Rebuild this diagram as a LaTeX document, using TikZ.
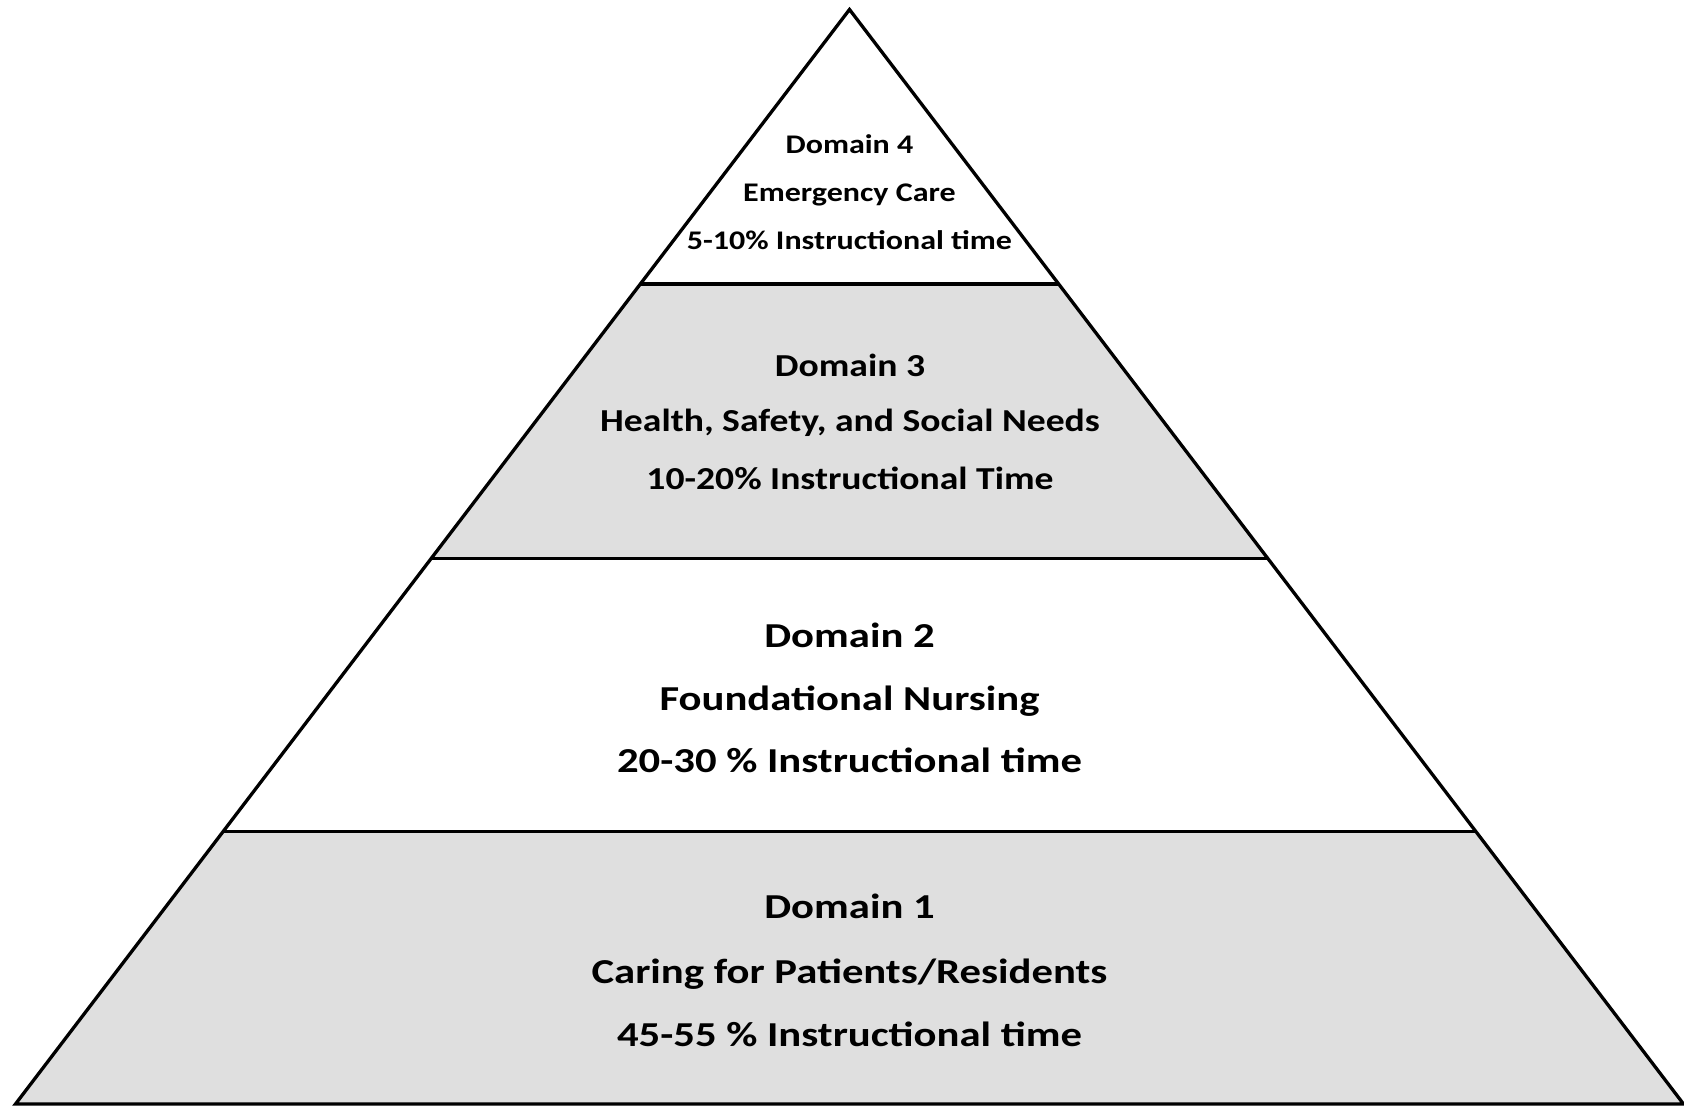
\documentclass[tikz,border=0pt]{standalone}
\usepackage{fontspec}
\usepackage{graphicx}
\setmainfont{Carlito}
\usetikzlibrary{calc}
\definecolor{bandgray}{RGB}{223,223,223}
\newcommand{\wideA}[1]{\scalebox{1.22}[1]{#1}}
\newcommand{\wideB}[1]{\scalebox{1.176}[1]{#1}}
\newcommand{\wideC}[1]{\scalebox{1.19}[1]{#1}}
\tikzset{
  outline/.style={line width=3.3pt, draw=black, line join=miter},
  txt/.style={anchor=base, inner sep=0pt, font=\bfseries},
  ta/.style={txt, font=\fontsize{35}{40}\selectfont\bfseries},
  tb/.style={txt, font=\fontsize{32}{37}\selectfont\bfseries},
  tc/.style={txt, font=\fontsize{26.9}{32}\selectfont\bfseries},
}
\begin{document}
\begin{tikzpicture}[x=1pt,y=-1pt]
\useasboundingbox (0,0) rectangle (1684,1106);
\coordinate (A) at (849.5,9.5);
\coordinate (BL) at (15.5,1104);
\coordinate (BR) at (1683.5,1104);
\coordinate (L1) at ($(A)!0.2508!(BL)$);
\coordinate (R1) at ($(A)!0.2508!(BR)$);
\coordinate (L2) at ($(A)!0.5016!(BL)$);
\coordinate (R2) at ($(A)!0.5016!(BR)$);
\coordinate (L3) at ($(A)!0.7512!(BL)$);
\coordinate (R3) at ($(A)!0.7512!(BR)$);
% fills
\fill[bandgray] (L1) -- (R1) -- (R2) -- (L2) -- cycle;
\fill[bandgray] (L3) -- (R3) -- (BR) -- (BL) -- cycle;
% outlines
\draw[outline] (A) -- (BR) -- (BL) -- cycle;
\draw[outline] (L1) -- (R1);
\draw[outline] (L2) -- (R2);
\draw[outline] (L3) -- (R3);
% Domain 4
\node[tc] (d4a) at (849.5,153.3) {\wideC{Domain 4}};
\node[tc] (d4b) at (849.5,201.7) {\wideC{Emergency Care}};
\node[tc] (d4c) at (849.5,249) {\wideC{5-10\% Instructional time}};
% Domain 3
\node[tb] (d3a) at (850,376.7) {\wideB{Domain 3}};
\node[tb] (d3b) at (850,431.7) {\wideB{Health, Safety, and Social Needs}};
\node[tb] (d3c) at (850,489) {\wideB{10-20\% Instructional Time}};
% Domain 2
\node[ta] (d2a) at (849.5,647.5) {\wideA{Domain 2}};
\node[ta] (d2b) at (849.5,710) {\wideA{Foundational Nursing}};
\node[ta] (d2c) at (849.5,772.5) {\wideA{20-30 \% Instructional time}};
% Domain 1
\node[ta] (d1a) at (849.5,918.5) {\wideA{Domain 1}};
\node[ta] (d1b) at (849.5,983) {\wideA{Caring for Patients/Residents}};
\node[ta] (d1c) at (849.5,1046) {\wideA{45-55 \% Instructional time}};
\end{tikzpicture}
\end{document}
